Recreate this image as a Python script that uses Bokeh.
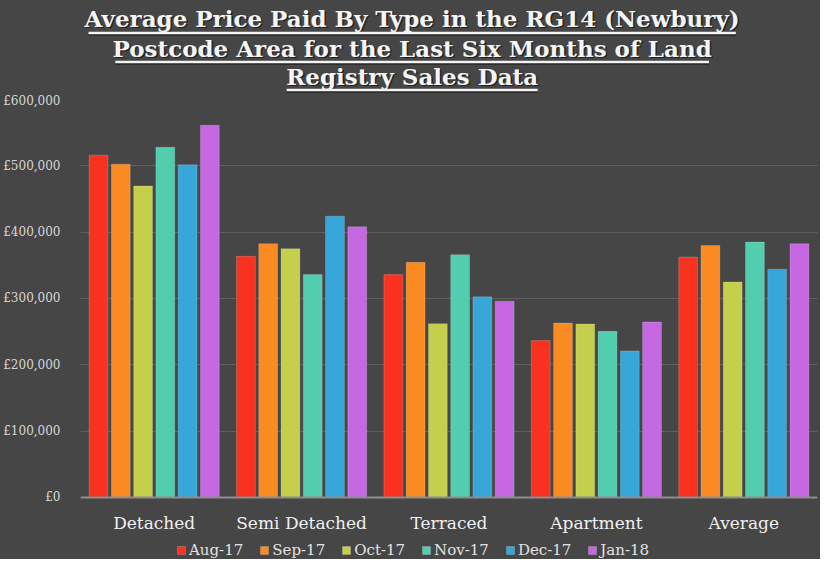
from bokeh.plotting import figure
from bokeh.models import (FactorRange, Range1d, FixedTicker, Legend, LegendItem,
                          ColumnDataSource)
from bokeh.transform import dodge
from bokeh.layouts import column
from bokeh.embed import file_html
from bokeh.resources import INLINE
from bokeh.core.properties import value

# ---------------- data ----------------
categories = ["Detached", "Semi Detached", "Terraced", "Apartment", "Average"]
months = ["Aug-17", "Sep-17", "Oct-17", "Nov-17", "Dec-17", "Jan-18"]
aug_17 = [516000, 363500, 336000, 236500, 362500]
sep_17 = [502500, 382500, 354500, 263000, 380000]
oct_17 = [469500, 375000, 262000, 261500, 325000]
nov_17 = [528000, 336000, 366000, 250500, 385000]
dec_17 = [501500, 424000, 302500, 221000, 344000]
jan_18 = [561000, 408000, 296000, 264500, 382500]
y_ticks = [0, 100000, 200000, 300000, 400000, 500000, 600000]
y_tick_labels = ["£0", "£100,000", "£200,000", "£300,000", "£400,000", "£500,000", "£600,000"]
title_lines = ["Average Price Paid By Type in the RG14 (Newbury)",
               "Postcode Area for the Last Six Months of Land",
               "Registry Sales Data"]

# ---------------- style ----------------
BG = "#464646"
FONT = "DejaVu Serif"
colors = ["#f8321e", "#fa8a22", "#c4cf4c", "#52cdae", "#37a6d9", "#c568e2"]
W, H_TITLE, H_CHART = 820, 93, 466
BL, BR = 77, 3

# ---------------- title figure ----------------
tf = figure(width=W, height=H_TITLE, x_range=Range1d(BL, W - BR), y_range=Range1d(0, H_TITLE),
            output_backend="svg", toolbar_location=None,
            min_border_left=BL, min_border_right=BR, min_border_top=0, min_border_bottom=0,
            styles={"background-color": BG})
tf.axis.visible = False
tf.grid.visible = False
tf.outline_line_color = None
tf.outline_line_alpha = 0
tf.background_fill_color = BG
tf.border_fill_color = BG

baselines = [75.5, 45.5, 17.5]
under_y = [60.5, 31.5, 3.4]
under_x0 = [85, 112, 284]
under_x1 = [735, 708, 536]
tsrc = ColumnDataSource(dict(t=title_lines, x=[410] * 3, y=baselines))
tf.text(x="x", y="y", text="t", source=tsrc, x_offset=1.5, y_offset=1.5,
        text_font=value(FONT), text_font_style="bold", text_font_size="23px",
        text_align="center", text_baseline="alphabetic", text_color="#111111", text_alpha=0.7)
tf.segment(x0=under_x0, x1=under_x1, y0=[u - 1.5 for u in under_y], y1=[u - 1.5 for u in under_y],
           line_color="#111111", line_alpha=0.6, line_width=2.5)
tf.text(x="x", y="y", text="t", source=tsrc,
        text_font=value(FONT), text_font_style="bold", text_font_size="23px",
        text_align="center", text_baseline="alphabetic", text_color="#f4f4f4")
tf.segment(x0=under_x0, x1=under_x1, y0=under_y, y1=under_y, line_color="#f4f4f4", line_width=2.5)

# ---------------- chart figure ----------------
src = ColumnDataSource(dict(cat=categories, aug=aug_17, sep=sep_17, oct=oct_17,
                            nov=nov_17, dec=dec_17, jan=jan_18))
p = figure(width=W, height=H_CHART, x_range=FactorRange(factors=categories),
           y_range=Range1d(-93500, 600000), output_backend="svg", toolbar_location=None,
           min_border_left=BL, min_border_right=BR, min_border_top=6, min_border_bottom=0,
           styles={"background-color": BG})
p.background_fill_color = BG
p.border_fill_color = BG
p.outline_line_color = None
p.outline_line_alpha = 0

cols = ["aug", "sep", "oct", "nov", "dec", "jan"]
pitch, bw = 0.151, 0.128
items = []
for i, (c, m, col) in enumerate(zip(cols, months, colors)):
    r = p.vbar(x=dodge("cat", (i - 2.5) * pitch, range=p.x_range), top=c, width=bw,
               source=src, fill_color=col, line_color="#ffffff", line_alpha=0.18, line_width=1)
    items.append(LegendItem(label=m, renderers=[r]))

p.yaxis.ticker = FixedTicker(ticks=y_ticks)
p.yaxis.major_label_overrides = {t: l for t, l in zip(y_ticks, y_tick_labels)}
p.yaxis.axis_line_color = None
p.yaxis.major_tick_line_color = None
p.yaxis.minor_tick_line_color = None
p.yaxis.major_label_standoff = 14
p.yaxis.major_label_text_font = FONT
p.yaxis.major_label_text_font_size = "12px"
p.yaxis.major_label_text_color = "#d6d6d6"

p.xaxis.fixed_location = 0
p.xaxis.axis_line_color = "#8e8e8e"
p.xaxis.axis_line_width = 2
p.xaxis.major_tick_line_color = None
p.xaxis.minor_tick_line_color = None
p.xaxis.major_label_standoff = 10
p.xaxis.major_label_text_font = FONT
p.xaxis.major_label_text_font_size = "17px"
p.xaxis.major_label_text_color = "#f0f0f0"

p.xgrid.grid_line_color = None
p.ygrid.grid_line_color = "#5f5f5f"
p.ygrid.grid_line_width = 1

legend = Legend(items=items, orientation="horizontal", location=(96, 0),
                glyph_width=10, glyph_height=10, label_standoff=3, spacing=16,
                label_text_font=FONT, label_text_font_size="15px", label_text_color="#e2e2e2",
                label_height=16, padding=0, margin=0,
                background_fill_alpha=0, border_line_color=None)
p.add_layout(legend, "center")

layout = column(tf, p, spacing=0, styles={"background-color": BG})
open("out.html", "w").write(file_html(layout, INLINE))
